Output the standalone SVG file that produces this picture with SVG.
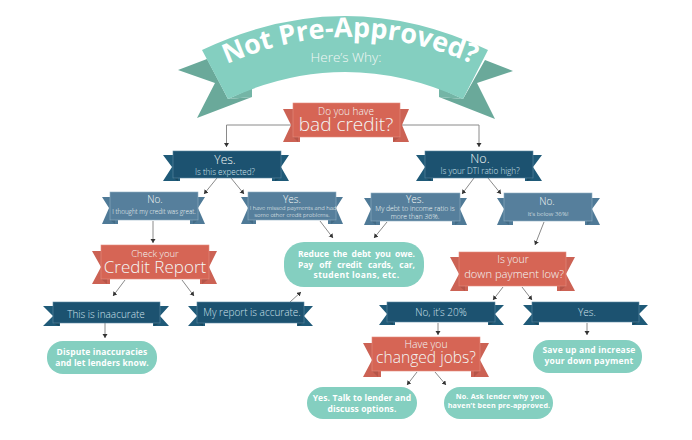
<svg xmlns="http://www.w3.org/2000/svg" width="692" height="440" viewBox="0 0 692 440">
<style>
text{font-family:"Open Sans","Noto Sans","Liberation Sans",sans-serif;text-anchor:middle;font-weight:300;fill:#f3f7f5}
.b{font-weight:700;fill:#fff}
.p{fill:#84cfc0}
.r{fill:#d66555;stroke:#e58d7f;stroke-width:.6}.rt{fill:#cc6254}.rf{fill:#b65549}
.d{fill:#1c5270;stroke:#5e8aa3;stroke-width:.6}.dt{fill:#1f5a78}.df{fill:#18485f}
.m{fill:#567f9c;stroke:#8fb0c4;stroke-width:.6}.mt{fill:#4f7a97}.mf{fill:#436b86}
.c{fill:none;stroke:#8a8a8a;stroke-width:1;marker-end:url(#a)}
.dk{fill:#cfe0ea}
</style>
<defs>
<marker id="a" markerUnits="userSpaceOnUse" markerWidth="6" markerHeight="6" refX="4" refY="2.5" orient="auto"><path d="M0 0L4 2.5L0 5z" fill="#333"/></marker>
<path id="arc" d="M205 74.7Q350 -0.7 495 74.7"/>
</defs>
<rect width="692" height="440" fill="#fff"/>
<g id="connectors">
<path class="c" d="M292 125H226.5V147"/>
<path class="c" d="M400 125H479V147"/>
<path class="c" d="M217 178L204 194"/>
<path class="c" d="M231 178L244 194"/>
<path class="c" d="M153 221V243"/>
<path class="c" d="M320 221L333 238"/>
<path class="c" d="M474 178L462 194"/>
<path class="c" d="M488 178L501 194"/>
<path class="c" d="M387 222L374 238"/>
<path class="c" d="M544 222L535 245"/>
<path class="c" d="M125 280L113 296"/>
<path class="c" d="M182 280L194 296"/>
<path class="c" d="M105 323V338"/>
<path class="c" d="M290 302L301 292"/>
<path class="c" d="M503 287L493 300"/>
<path class="c" d="M522 287L532 300"/>
<path class="c" d="M438 323V335"/>
<path class="c" d="M587 323V335"/>
<path class="c" d="M417 372L407 385"/>
<path class="c" d="M435 372L446 385"/>
</g>
<g id="title">
<path fill="#6aa99a" d="M178 70L207 59L228 99L252 97L197 118L215 83z"/>
<path fill="#6aa99a" d="M513 71L485 60L463 99L439 97L495 119L477 83z"/>
<path fill="#74b5a6" d="M228 99L252 88V97z"/>
<path fill="#74b5a6" d="M463 99L439 88V97z"/>
<path class="p" d="M202 50Q345 -18 488 50L463 99Q345 45 228 99z"/>
<text class="b" font-size="27"><textPath href="#arc" startOffset="50%">Not Pre-Approved?</textPath></text>
<text x="346" y="62" font-size="13.5">Here’s Why:</text>
</g>
<g id="n-bad-credit">
<path class="rt" d="M283 109H300V142H283L291 125z"/><path class="rt" d="M409 109H393V142H409L402 125z"/>
<path class="rf" d="M293 137H298V142z"/><path class="rf" d="M400 137H393V142z"/>
<rect class="r" x="293" y="103" width="107" height="34"/>
<text x="346" y="115" font-size="10">Do you have</text>
<text x="346" y="131" font-size="19">bad credit?</text>
</g>
<g id="n-yes-expected">
<path class="dt" d="M163 155H180V181H163L172 167z"/><path class="dt" d="M289 155H272V181H289L281 167z"/>
<path class="df" d="M173 178L178 181V178z"/><path class="df" d="M281 178L275 181V178z"/>
<rect class="d" x="173" y="151" width="108" height="27"/>
<text x="225" y="164" font-size="12">Yes.</text>
<text x="225" y="175" font-size="8.1" class="dk">Is this expected?</text>
</g>
<g id="n-no-dti">
<path class="dt" d="M416 155H433V181H416L425 167z"/><path class="dt" d="M542 155H525V181H542L533 167z"/>
<path class="df" d="M425 178L431 181V178z"/><path class="df" d="M533 178L527 181V178z"/>
<rect class="d" x="425" y="151" width="108" height="27"/>
<text x="480" y="163" font-size="12.5">No.</text>
<text x="480" y="174" font-size="8.2" class="dk">Is your DTI ratio high?</text>
</g>
<g id="n-no-great">
<path class="mt" d="M102 197H118V224H102L109 208z"/><path class="mt" d="M205 197H190V224H205L198 208z"/>
<path class="mf" d="M110 220L115 224V220z"/><path class="mf" d="M198 220L193 224V220z"/>
<rect class="m" x="110" y="192" width="88" height="28"/>
<text x="155" y="203" font-size="10">No.</text>
<text x="154" y="214" font-size="6.3">I thought my credit was great.</text>
</g>
<g id="n-yes-missed">
<path class="mt" d="M241 197H256V224H241L248 208z"/><path class="mt" d="M343 197H328V224H343L336 208z"/>
<path class="mf" d="M248 220L253 224V220z"/><path class="mf" d="M336 220L331 224V220z"/>
<rect class="m" x="248" y="192" width="88" height="28"/>
<text x="292" y="203" font-size="10">Yes.</text>
<text x="293" y="209.500" font-size="5.9">I have missed payments and had</text>
<text x="292" y="216.500" font-size="5.9">some other credit problems.</text>
</g>
<g id="n-yes-36">
<path class="mt" d="M364 198H380V225H364L371 209z"/><path class="mt" d="M467 198H452V225H467L460 209z"/>
<path class="mf" d="M371 221L376 225V221z"/><path class="mf" d="M460 221L455 225V221z"/>
<rect class="m" x="371" y="193" width="89" height="28"/>
<text x="415" y="203" font-size="10">Yes.</text>
<text x="415" y="210.500" font-size="6.8">My debt to income ratio is</text>
<text x="415" y="218.500" font-size="6.8">more than 36%.</text>
</g>
<g id="n-no-below">
<path class="mt" d="M497 198H513V225H497L504 209z"/><path class="mt" d="M600 198H585V225H600L592 209z"/>
<path class="mf" d="M504 221L509 225V221z"/><path class="mf" d="M592 221L587 225V221z"/>
<rect class="m" x="504" y="193" width="88" height="28"/>
<text x="547" y="205" font-size="10">No.</text>
<text x="548" y="216" font-size="6.2">It’s below 36%!</text>
</g>
<g id="n-credit-report">
<path class="rt" d="M92 251H110V284H92L101 267z"/><path class="rt" d="M217 251H200V284H217L209 267z"/>
<path class="rf" d="M101 279L107 284V279z"/><path class="rf" d="M209 279L202 284V279z"/>
<rect class="r" x="101" y="245" width="108" height="34"/>
<text x="155" y="257" font-size="9.5">Check your</text>
<text x="155" y="273" font-size="17">Credit Report</text>
</g>
<g id="n-down-payment">
<path class="rt" d="M450 257H468V291H450L459 274z"/><path class="rt" d="M575 257H557V291H575L566 274z"/>
<path class="rf" d="M459 286L465 291V286z"/><path class="rf" d="M566 286L560 291V286z"/>
<rect class="r" x="459" y="252" width="107" height="34"/>
<text x="513" y="263" font-size="10.5">Is your</text>
<text x="514" y="278" font-size="11.2">down payment low?</text>
</g>
<g id="n-changed-jobs">
<path class="rt" d="M363 343H381V377H363L372 360z"/><path class="rt" d="M489 343H471V377H489L480 360z"/>
<path class="rf" d="M372 371L378 377V371z"/><path class="rf" d="M480 371L474 377V371z"/>
<rect class="r" x="372" y="337" width="108" height="34"/>
<text x="426" y="348" font-size="10.400">Have you</text>
<text x="426" y="363" font-size="15.600">changed jobs?</text>
</g>
<g id="n-inaccurate">
<path class="dt" d="M43 306H60V326H43L53 316z"/><path class="dt" d="M169 306H153V326H169L160 316z"/>
<path class="df" d="M53 323L59 326V323z"/><path class="df" d="M160 323L154 326V323z"/>
<rect class="d" x="53" y="302" width="107" height="21"/>
<text x="106" y="318" font-size="10" class="dk">This is inaacurate</text>
</g>
<g id="n-accurate">
<path class="dt" d="M188 306H205V326H188L197 316z"/><path class="dt" d="M313 306H297V326H313L304 316z"/>
<path class="df" d="M197 323L203 326V323z"/><path class="df" d="M304 323L298 326V323z"/>
<rect class="d" x="197" y="302" width="107" height="21"/>
<text x="252" y="316" font-size="10" class="dk">My report is accurate.</text>
</g>
<g id="n-20">
<path class="dt" d="M379 305H395V325H379L387 314z"/><path class="dt" d="M504 305H488V325H504L495 314z"/>
<path class="df" d="M387 322L393 325V322z"/><path class="df" d="M495 322L489 325V322z"/>
<rect class="d" x="387" y="302" width="108" height="20"/>
<text x="441" y="316" font-size="10" class="dk">No, it’s 20%</text>
</g>
<g id="n-yes-down">
<path class="dt" d="M523 305H539V325H523L532 314z"/><path class="dt" d="M648 305H632V325H648L639 314z"/>
<path class="df" d="M532 322L538 325V322z"/><path class="df" d="M639 322L633 325V322z"/>
<rect class="d" x="532" y="302" width="107" height="20"/>
<text x="587" y="316" font-size="10" class="dk">Yes.</text>
</g>
<g id="n-reduce">
<rect class="p" x="284" y="242" width="140" height="45" rx="20"/>
<text class="b" font-size="8.500" x="356.500" y="257" textLength="117" word-spacing="2">Reduce the debt you owe.</text>
<text class="b" font-size="8.500" x="356.500" y="267.500" textLength="117" word-spacing="4">Pay off credit cards, car,</text>
<text class="b" font-size="8.500" x="356.500" y="278" letter-spacing=".4">student loans, etc.</text>
</g>
<g id="n-dispute">
<rect class="p" x="47" y="341" width="110" height="33" rx="16"/>
<text class="b" font-size="8.500" x="102" y="355" letter-spacing=".15">Dispute inaccuracies</text>
<text class="b" font-size="8.500" x="102" y="365.500" letter-spacing=".1">and let lenders know.</text>
</g>
<g id="n-talk">
<rect class="p" x="307" y="387" width="110" height="32" rx="16"/>
<text class="b" font-size="8.500" x="362" y="401" letter-spacing=".1">Yes. Talk to lender and</text>
<text class="b" font-size="8.500" x="362" y="411.500" letter-spacing=".1">discuss options.</text>
</g>
<g id="n-ask">
<rect class="p" x="444" y="387" width="109" height="32" rx="16"/>
<text class="b" font-size="7.200" x="500" y="399" letter-spacing=".2">No. Ask lender why you</text>
<text class="b" font-size="7.200" x="499" y="408" letter-spacing=".15">haven’t been pre-approved.</text>
</g>
<g id="n-save">
<rect class="p" x="533" y="340" width="109" height="33" rx="16"/>
<text class="b" font-size="8.500" x="589" y="353" letter-spacing=".2">Save up and increase</text>
<text class="b" font-size="8.500" x="589" y="363.500" letter-spacing=".2">your down payment</text>
</g>
</svg>
